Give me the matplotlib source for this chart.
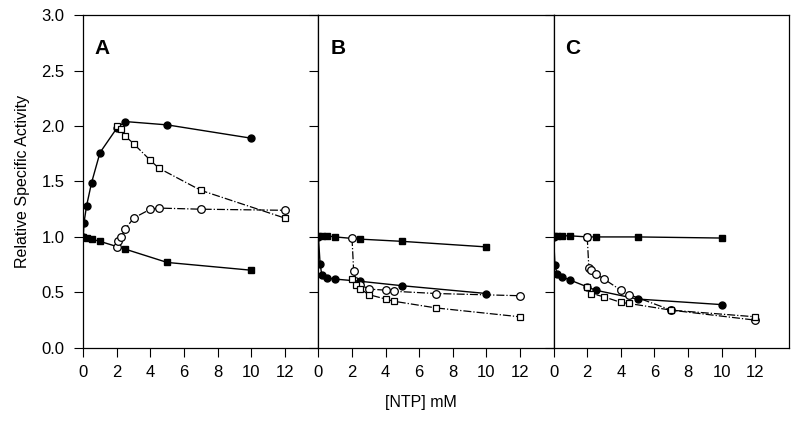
import numpy as np
import matplotlib.pyplot as plt

# panel A
a_fc_x = [0, 0.05, 0.2, 0.5, 1, 2, 2.5, 5, 10]
a_fc_y = [1.0, 1.13, 1.28, 1.49, 1.76, 1.98, 2.04, 2.01, 1.89]
a_fs_x = [0, 0.2, 0.5, 1, 2.5, 5, 10]
a_fs_y = [1.0, 0.99, 0.98, 0.96, 0.89, 0.77, 0.70]
a_oc_x = [2, 2.1, 2.25, 2.5, 3, 4, 4.5, 7, 12]
a_oc_y = [0.91, 0.96, 1.0, 1.07, 1.17, 1.25, 1.26, 1.25, 1.24]
a_os_x = [2, 2.25, 2.5, 3, 4, 4.5, 7, 12]
a_os_y = [2.0, 1.97, 1.91, 1.84, 1.69, 1.62, 1.42, 1.17]

# panel B
b_fc_x = [0, 0.1, 0.2, 0.5, 1, 2.5, 5, 10]
b_fc_y = [1.0, 0.76, 0.66, 0.63, 0.62, 0.60, 0.56, 0.49]
b_fs_x = [0, 0.2, 0.5, 1, 2.5, 5, 10]
b_fs_y = [1.01, 1.01, 1.01, 1.0, 0.98, 0.96, 0.91]
b_oc_x = [2, 2.1, 2.5, 3, 4, 4.5, 7, 12]
b_oc_y = [0.99, 0.69, 0.57, 0.53, 0.52, 0.51, 0.49, 0.47]
b_os_x = [2, 2.25, 2.5, 3, 4, 4.5, 7, 12]
b_os_y = [0.62, 0.57, 0.53, 0.48, 0.44, 0.42, 0.36, 0.28]

# panel C
c_fc_x = [0, 0.08, 0.2, 0.5, 1, 2, 2.5, 5, 10]
c_fc_y = [1.0, 0.75, 0.67, 0.64, 0.61, 0.55, 0.52, 0.44, 0.39]
c_fs_x = [0, 0.2, 0.5, 1, 2, 2.5, 5, 10]
c_fs_y = [1.01, 1.01, 1.01, 1.01, 1.0, 1.0, 1.0, 0.99]
c_oc_x = [2, 2.1, 2.25, 2.5, 3, 4, 4.5, 7, 12]
c_oc_y = [1.0, 0.72, 0.70, 0.67, 0.62, 0.52, 0.48, 0.34, 0.25]
c_os_x = [2, 2.25, 3, 4, 4.5, 7, 12]
c_os_y = [0.55, 0.49, 0.46, 0.41, 0.40, 0.34, 0.28]

panels = [
    ("A", (a_fc_x, a_fc_y), (a_fs_x, a_fs_y), (a_oc_x, a_oc_y), (a_os_x, a_os_y)),
    ("B", (b_fc_x, b_fc_y), (b_fs_x, b_fs_y), (b_oc_x, b_oc_y), (b_os_x, b_os_y)),
    ("C", (c_fc_x, c_fc_y), (c_fs_x, c_fs_y), (c_oc_x, c_oc_y), (c_os_x, c_os_y)),
]
x_ticks = [0, 2, 4, 6, 8, 10, 12]
y_ticks = [0.0, 0.5, 1.0, 1.5, 2.0, 2.5, 3.0]

plt.rcParams['font.family'] = ['Liberation Sans', 'DejaVu Sans']

fig = plt.figure(figsize=(8, 4.3), dpi=100)
left, right, bottom, top = 0.104, 0.986, 0.191, 0.965
w = (right - left) / 3

for i, (name, fc, fs, oc, os_) in enumerate(panels):
    ax = fig.add_axes([left + i * w, bottom, w, top - bottom])
    ax.plot(fc[0], fc[1], '-', color='black', lw=1, marker='o', ms=5,
            mfc='black', mec='black')
    ax.plot(fs[0], fs[1], '-', color='black', lw=1, marker='s', ms=4.5,
            mfc='black', mec='black')
    ax.plot(oc[0], oc[1], '-.', color='black', lw=0.9, marker='o', ms=5.5,
            mfc='white', mec='black', mew=0.9)
    ax.plot(os_[0], os_[1], '-.', color='black', lw=0.9, marker='s', ms=5,
            mfc='white', mec='black', mew=0.9)
    ax.set_xlim(0, 14)
    ax.set_ylim(0, 3.0)
    ax.set_xticks(x_ticks)
    ax.set_yticks(y_ticks)
    ax.tick_params(direction='out', length=6.5, width=0.8, labelsize=12)
    ax.tick_params(axis='x', pad=6)
    ax.tick_params(axis='y', pad=7)
    if i == 0:
        ax.set_yticklabels([f"{v:.1f}" for v in y_ticks])
        ax.set_ylabel("Relative Specific Activity", fontsize=11.5, labelpad=8)
    else:
        ax.set_yticklabels([])
    for sp in ax.spines.values():
        sp.set_linewidth(0.9)
    ax.text(0.05, 0.9, name, transform=ax.transAxes, fontsize=15,
            fontweight='bold', ha='left', va='center')

fig.text(0.526, 0.063, "[NTP] mM", fontsize=11.5, ha='center', va='center')

fig.savefig("out.png", dpi=100)
